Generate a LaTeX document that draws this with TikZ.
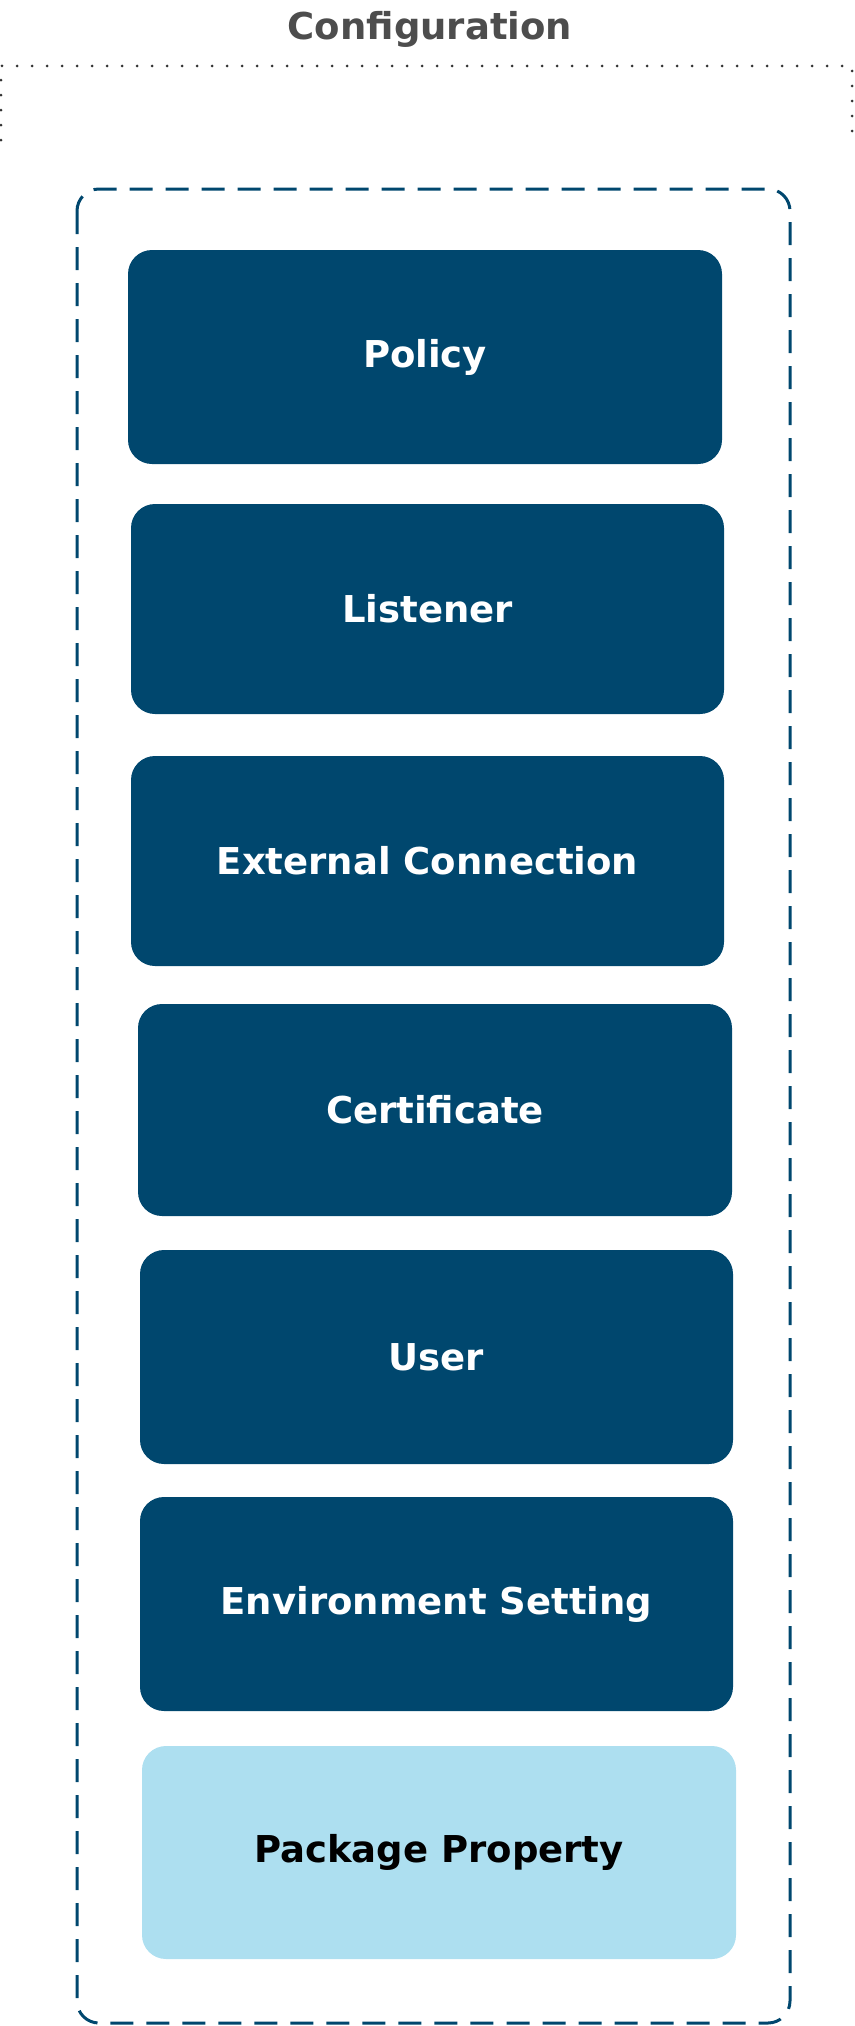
\documentclass[tikz,border=0pt]{standalone}
\usepackage{fontspec}
\setmainfont{DejaVu Sans}
\definecolor{navy}{HTML}{00476E}
\definecolor{lightblue}{HTML}{ADDFF0}
\definecolor{titlegray}{HTML}{4D4D4D}
\definecolor{dotgray}{HTML}{333333}
\begin{document}
\begin{tikzpicture}[x=1pt,y=-1pt,
  darkbox/.style={fill=navy,draw=none,rounded corners=24pt},
  lightbox/.style={fill=lightblue,draw=none,rounded corners=24pt},
  boxtext/.style={font=\fontsize{37}{44}\selectfont\bfseries},
  outerframe/.style={draw=navy,line width=3pt,dash pattern=on 23pt off 13pt,rounded corners=22pt},
  dotframe/.style={draw=dotgray,line width=3pt,line cap=round,dash pattern=on 0pt off 15pt}]
\useasboundingbox (0,0) rectangle (854,2026);
\node[anchor=base,text=titlegray,boxtext] (title) at (430,40) {Configuration};
\draw[dotframe] (1,140) -- (1,66) -- (852,66) -- (852,132);
\draw[outerframe] (77,189) rectangle (790,2023);
\path[darkbox] (128,250) rectangle (722,464);
\node[text=white,boxtext] (policy) at (425,357) {Policy};
\path[darkbox] (131,504) rectangle (724,714);
\node[text=white,boxtext] (listener) at (427.5,609) {Listener};
\path[darkbox] (131,756) rectangle (724,966);
\node[text=white,boxtext] (extconn) at (427.5,861) {External Connection};
\path[darkbox] (138,1004) rectangle (732,1216);
\node[text=white,boxtext] (cert) at (435,1110) {Certificate};
\path[darkbox] (140,1250) rectangle (733,1464);
\node[text=white,boxtext] (user) at (436.5,1357) {User};
\path[darkbox] (140,1497) rectangle (733,1711);
\node[text=white,boxtext] (envset) at (436.5,1604) {Environment Setting};
\path[lightbox] (142,1746) rectangle (736,1959);
\node[text=black,boxtext] (pkgprop) at (439,1852) {Package Property};
\end{tikzpicture}
\end{document}
